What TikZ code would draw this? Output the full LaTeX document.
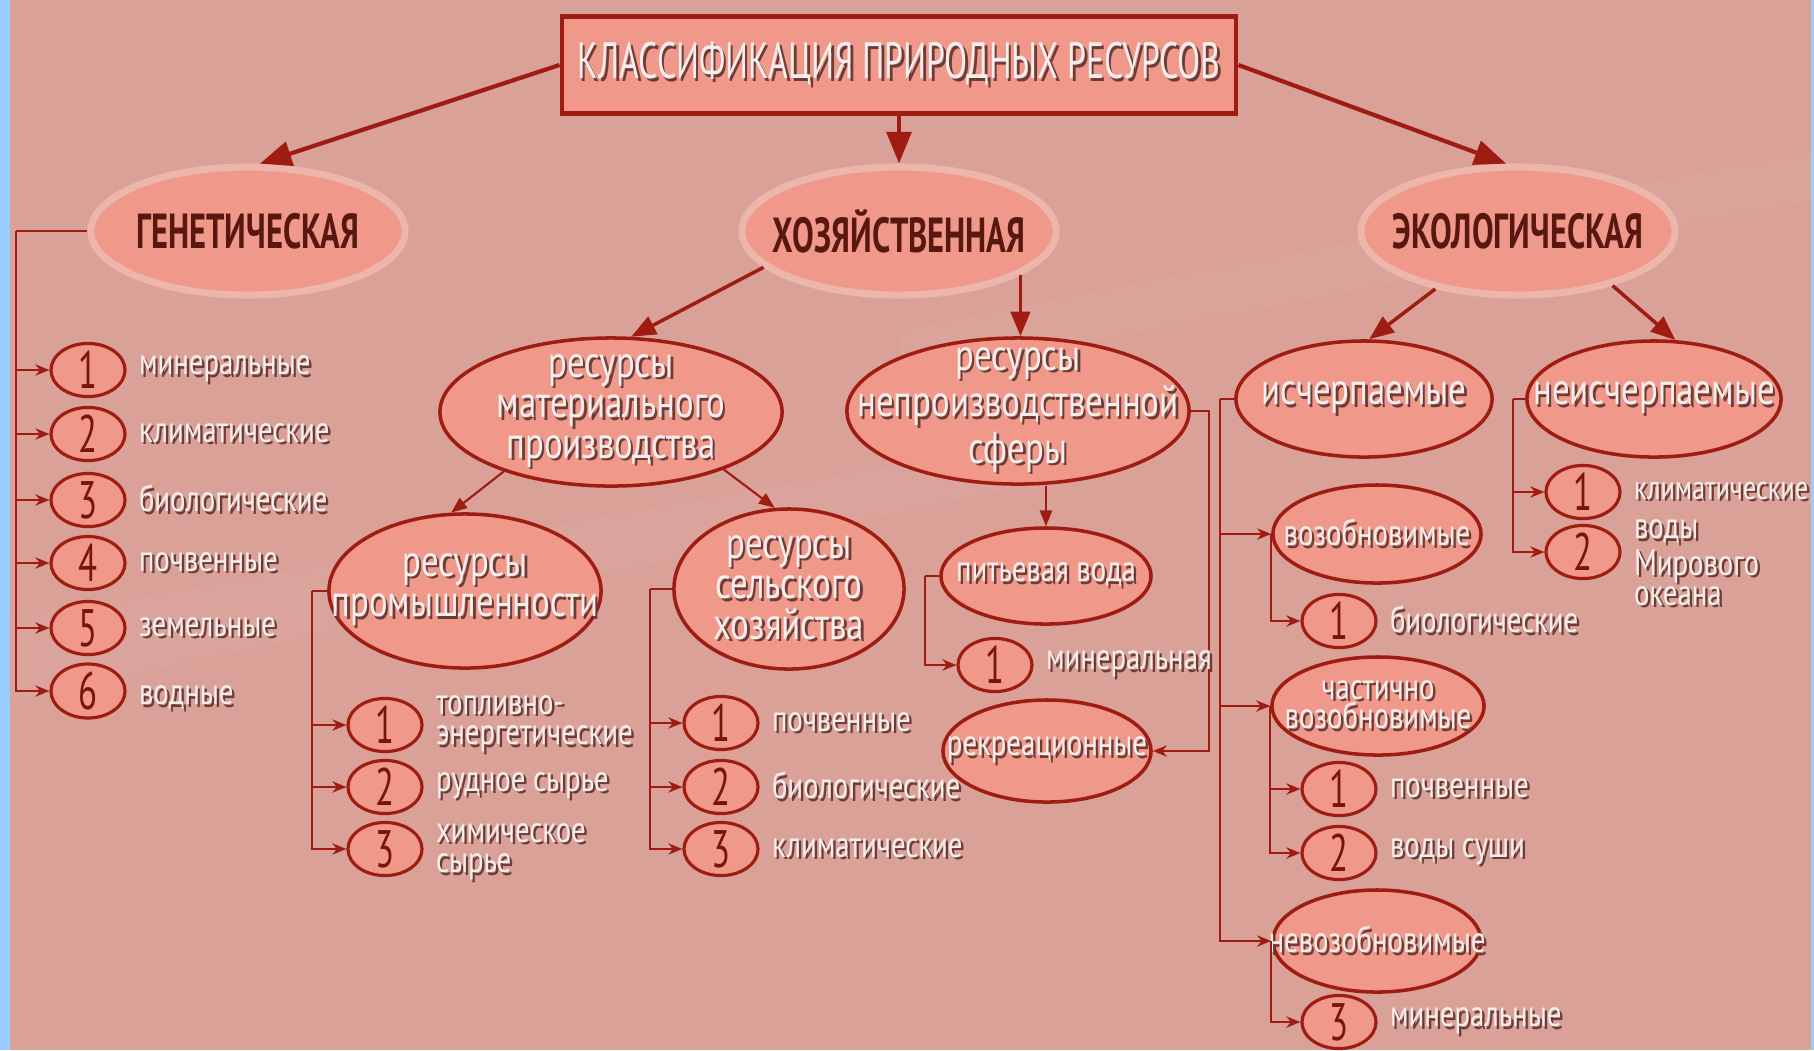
\documentclass[tikz,border=0pt]{standalone}
\usepackage{fontspec}
\setmainfont{PT Sans}[FakeStretch=0.78]
\newfontfamily\condfont{PT Sans}[FakeStretch=0.66]
\usepackage{tikz}
\usetikzlibrary{arrows.meta,shapes.geometric}
\definecolor{bgpink}{RGB}{217,161,152}
\definecolor{salmon}{RGB}{240,152,138}
\definecolor{darkred}{RGB}{158,28,18}
\definecolor{halo}{RGB}{236,182,172}
\definecolor{textdark}{RGB}{88,24,16}
\definecolor{numred}{RGB}{120,20,12}
\definecolor{labelwhite}{RGB}{246,238,236}
\definecolor{shadowc}{RGB}{110,60,55}
\definecolor{stripblue}{RGB}{153,204,255}
\newcommand{\shd}[1]{\makebox[0pt][l]{\kern0.7pt\raisebox{-0.7pt}{\textcolor{shadowc}{#1}}}#1}

\begin{document}
\begin{tikzpicture}[x=0.01cm, y=-0.01cm,
    titlebox/.style={draw=darkred, line width=1.3pt, fill=salmon, minimum width=6.74cm, minimum height=0.97cm,
      font=\condfont\fontsize{14.5}{16}\selectfont, text=labelwhite},
    top/.style={ellipse, fill=salmon, draw=halo, line width=2pt, minimum width=3.14cm, minimum height=1.28cm},
    oval/.style={ellipse, fill=salmon, draw=darkred, line width=1pt},
    num/.style={ellipse, fill=salmon, draw=darkred, line width=0.9pt, minimum width=0.74cm, minimum height=0.46cm,
      inner sep=0pt, font=\condfont\fontsize{15}{15}\selectfont, text=numred},
    toptxt/.style={font=\condfont\fontsize{14}{16}\selectfont\bfseries, text=textdark},
    ovtxt/.style={font=\fontsize{12.7}{11.5}\selectfont, text=labelwhite, align=center},
    midtxt/.style={font=\fontsize{10.5}{8.5}\selectfont, text=labelwhite, align=center},
    smtxt/.style={font=\fontsize{10.5}{8.6}\selectfont, text=labelwhite, align=left},
    bigarrow/.style={draw=darkred, line width=1.2pt, -{Triangle[length=9pt,width=7pt]}},
    midarrow/.style={draw=darkred, line width=1pt, -{Triangle[length=7pt,width=5.5pt]}},
    thinarrow/.style={draw=darkred, line width=0.6pt, -{Triangle[length=4.5pt,width=3.5pt]}},
    trunk/.style={draw=darkred, line width=0.7pt},
    branch/.style={draw=darkred, line width=0.7pt, -{Stealth[length=4pt,width=3.2pt]}}]

  \fill[bgpink] (0,0) rectangle (1814,1050);
  \fill[white, opacity=0.04] (10,620) -- (1100,430) -- (1100,470) -- (10,700) -- cycle;
  \fill[white, opacity=0.035] (900,330) -- (1814,150) -- (1814,200) -- (900,380) -- cycle;
  \fill[stripblue] (0,0) rectangle (10,1050);
  \fill[stripblue] (1811,0) rectangle (1814,1050);
  \useasboundingbox (0,0) rectangle (1814,1050);

  \node[titlebox] (title) at (899,65) {\shd{КЛАССИФИКАЦИЯ ПРИРОДНЫХ РЕСУРСОВ}};

  \node[top, label={[toptxt]center:ГЕНЕТИЧЕСКАЯ}] (gen) at (248,231) {};
  \node[top, label={[toptxt]center:ХОЗЯЙСТВЕННАЯ}] (hoz) at (899,231) {};
  \node[top, label={[toptxt]center:ЭКОЛОГИЧЕСКАЯ}] (ekol) at (1518,231) {};

  \draw[bigarrow] (title.west) -- (gen.80);
  \draw[bigarrow] (title.south) -- (hoz.north);
  \draw[bigarrow] (title.east) -- (ekol.100);

  % genetic
  \node[num, label={[smtxt]right:\shd{минеральные}}] (g1) at (88,370) {1};
  \node[num, label={[smtxt]right:\shd{климатические}}] (g2) at (88,434) {2};
  \node[num, label={[smtxt]right:\shd{биологические}}] (g3) at (88,500) {3};
  \node[num, label={[smtxt]right:\shd{почвенные}}] (g4) at (88,563) {4};
  \node[num, label={[smtxt]right:\shd{земельные}}] (g5) at (88,628) {5};
  \node[num, label={[smtxt, yshift=-0.08cm]right:\shd{водные}}] (g6) at (88,691) {6};
  \coordinate (gtr) at (16,231);
  \draw[trunk] (gen.west) -- (gtr);
  \draw[branch] (gtr) |- (g1.west);
  \draw[branch] (gtr) |- (g2.west);
  \draw[branch] (gtr) |- (g3.west);
  \draw[branch] (gtr) |- (g4.west);
  \draw[branch] (gtr) |- (g5.west);
  \draw[branch] (gtr) |- (g6.west);

  % economic
  \node[oval, minimum width=3.42cm, minimum height=1.48cm,
    label={[ovtxt]center:\shd{ресурсы}\\\shd{материального}\\\shd{производства}}] (mat) at (611,412) {};
  \node[oval, minimum width=3.42cm, minimum height=1.46cm,
    label={[ovtxt]center:\shd{ресурсы}\\\shd{непроизводственной}\\\shd{сферы}}] (nepr) at (1018,411) {};
  \draw[midarrow] (hoz.195) -- (mat.75);
  \draw[midarrow] (hoz.340) -- (hoz.340 |- nepr.north);

  \node[oval, minimum width=2.72cm, minimum height=1.54cm,
    label={[ovtxt]center:\shd{ресурсы}\\\shd{промышленности}}] (prom) at (465,591) {};
  \node[oval, minimum width=2.30cm, minimum height=1.60cm,
    label={[ovtxt]center:\shd{ресурсы}\\\shd{сельского}\\\shd{хозяйства}}] (sel) at (789,589) {};
  \draw[thinarrow] (mat.209) -- (prom.100);
  \draw[thinarrow] (mat.333) -- (sel.100);

  \node[num, label={[smtxt]right:\shd{топливно-}\\\shd{энергетические}}] (p1) at (385,725) {1};
  \node[num, label={[smtxt]right:\shd{рудное сырье}}] (p2) at (385,787) {2};
  \node[num, label={[smtxt, yshift=-0.04cm]right:\shd{химическое}\\\shd{сырье}}] (p3) at (385,849) {3};
  \coordinate (ptr) at (312,591);
  \draw[trunk] (prom.west) -- (ptr);
  \draw[branch] (ptr) |- (p1.west);
  \draw[branch] (ptr) |- (p2.west);
  \draw[branch] (ptr) |- (p3.west);

  \node[num, label={[smtxt]right:\shd{почвенные}}] (s1) at (721,723) {1};
  \node[num, label={[smtxt]right:\shd{биологические}}] (s2) at (721,787) {2};
  \node[num, label={[smtxt]right:\shd{климатические}}] (s3) at (721,849) {3};
  \coordinate (str) at (650,589);
  \draw[trunk] (sel.west) -- (str);
  \draw[branch] (str) |- (s1.west);
  \draw[branch] (str) |- (s2.west);
  \draw[branch] (str) |- (s3.west);

  \node[oval, minimum width=2.10cm, minimum height=0.96cm,
    label={[midtxt]center:\shd{питьевая вода}}] (pit) at (1046,576) {};
  \node[oval, minimum width=2.08cm, minimum height=1.02cm,
    label={[midtxt]center:\shd{рекреационные}}] (rekr) at (1047,751) {};
  \draw[thinarrow] (nepr.south -| pit.north) -- (pit.north);
  \draw[branch] (nepr.east) -- ++(18,0) |- (rekr.east);

  \node[num, label={[smtxt]right:\shd{минеральная}}] (w1) at (995,665) {1};
  \coordinate (wtr) at (925,576);
  \draw[trunk] (pit.west) -- (wtr);
  \draw[branch] (wtr) |- (w1.west);

  % ecological
  \node[oval, minimum width=2.56cm, minimum height=1.16cm,
    label={[ovtxt]center:\shd{исчерпаемые}}] (isch) at (1364,399) {};
  \node[oval, minimum width=2.54cm, minimum height=1.16cm,
    label={[ovtxt]center:\shd{неисчерпаемые}}] (nei) at (1654,399) {};
  \draw[midarrow] (ekol.215) -- (isch.85);
  \draw[midarrow] (ekol.330) -- (nei.70);

  \node[num, label={[smtxt, font=\fontsize{9.6}{8}\selectfont]right:\shd{климатические}}] (e1) at (1583,492) {1};
  \node[num, label={[smtxt, yshift=-0.12cm]right:\shd{воды}\\\shd{Мирового}\\\shd{океана}}] (e2) at (1583,552) {2};
  \coordinate (etr) at (1513,399);
  \draw[trunk] (nei.west) -- (etr);
  \draw[branch] (etr) |- (e1.west);
  \draw[branch] (etr) |- (e2.west);

  \node[oval, minimum width=2.08cm, minimum height=0.98cm,
    label={[midtxt]center:\shd{возобновимые}}] (voz) at (1377,534) {};
  \node[oval, minimum width=2.12cm, minimum height=0.98cm,
    label={[midtxt]center:\shd{частично}\\\shd{возобновимые}}] (chast) at (1378,706) {};
  \node[oval, minimum width=2.08cm, minimum height=1.02cm,
    label={[midtxt]center:\shd{невозобновимые}}] (nevoz) at (1377,941) {};
  \coordinate (itr) at (1220,399);
  \draw[trunk] (isch.west) -- (itr);
  \draw[branch] (itr) |- (voz.west);
  \draw[branch] (itr) |- (chast.west);
  \draw[branch] (itr) |- (nevoz.west);

  \node[num, label={[smtxt]right:\shd{биологические}}] (v1) at (1339,621) {1};
  \draw[branch] (voz.west) |- (v1.west);
  \node[num, label={[smtxt]right:\shd{почвенные}}] (c1) at (1339,789) {1};
  \node[num, label={[smtxt]right:\shd{воды суши}}] (c2) at (1339,853) {2};
  \draw[branch] (chast.west) |- (c1.west);
  \draw[branch] (chast.west) |- (c2.west);
  \node[num, label={[smtxt]right:\shd{минеральные}}] (n3) at (1339,1022) {3};
  \draw[branch] (nevoz.west) |- (n3.west);
\end{tikzpicture}
\end{document}
